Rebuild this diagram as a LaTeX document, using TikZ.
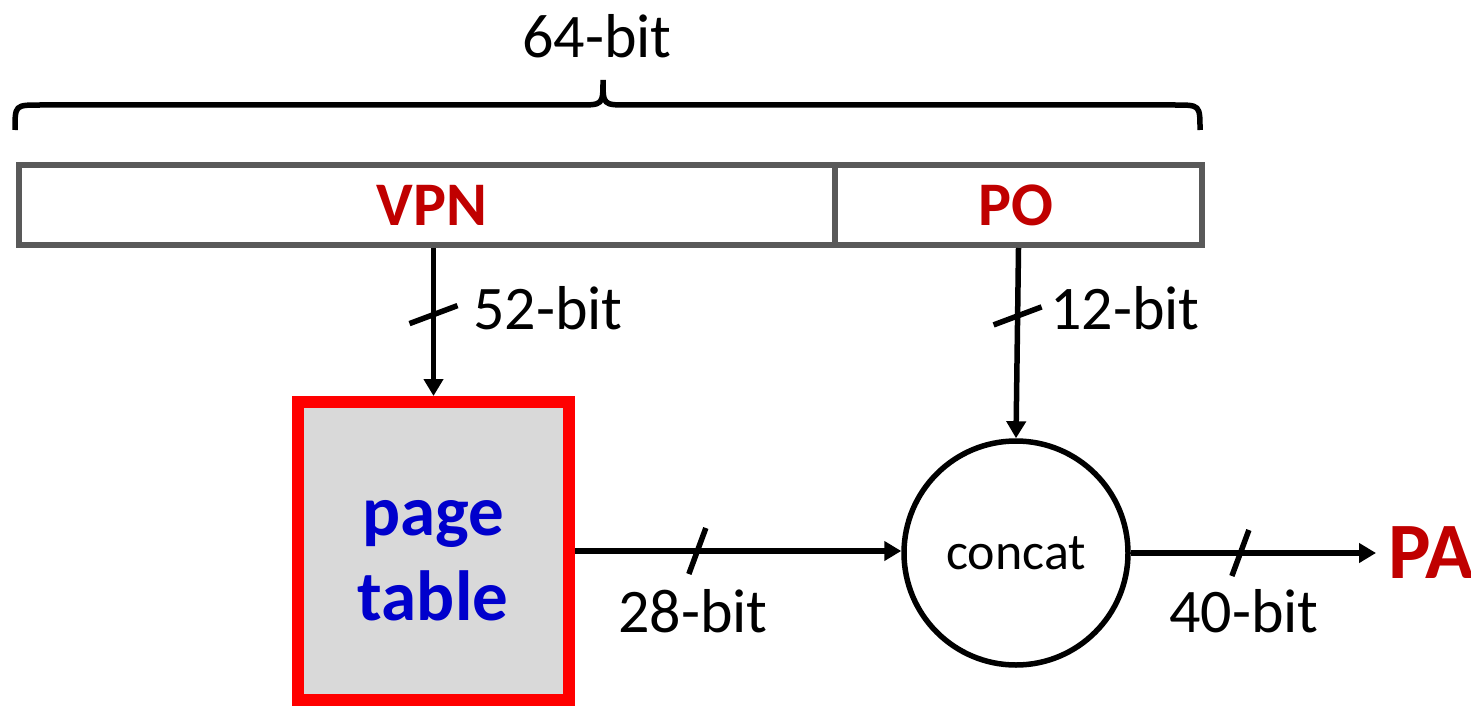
\documentclass[tikz,border=0pt]{standalone}
\usepackage{fontspec}
\setmainfont{Carlito}
\usetikzlibrary{arrows.meta,calc}
\definecolor{darkred}{RGB}{192,0,0}
\definecolor{ptblue}{RGB}{0,0,204}
\definecolor{framegray}{RGB}{89,89,89}
\definecolor{fillgray}{RGB}{217,217,217}
\begin{document}
\begin{tikzpicture}[x=1pt,y=-1pt,
  wire/.style={line width=5.5pt,-{Triangle[length=17pt,width=19pt]}},
  slashline/.style={line width=5.5pt},
  lbl/.style={font=\fontsize{62}{70}\selectfont,inner sep=0pt},
  field/.style={draw=framegray,line width=6pt,minimum height=80pt,inner sep=0pt,anchor=north west},
  fieldtext/.style={font=\fontsize{62}{70}\selectfont\bfseries,text=darkred,inner sep=0pt,anchor=base},
  ptbox/.style={draw=red,fill=fillgray,line width=12pt,minimum width=271pt,minimum height=298pt,inner sep=0pt},
  pttext/.style={font=\fontsize{71}{85}\selectfont\bfseries,text=ptblue,align=center,inner sep=0pt},
  concatnode/.style={circle,draw,line width=5.5pt,minimum size=224pt,inner sep=0pt,font=\fontsize{52}{60}\selectfont},
  brace/.style={line width=5.5pt}
]
\useasboundingbox (0,0) rectangle (1471,706);

% brace and width label
\draw[brace] (15,130) .. controls (15,105) .. (40,105) -- (578,105)
  .. controls (603,105) .. (603,80) .. controls (603,105) .. (628,105)
  -- (1175,105) .. controls (1200,105) .. (1200,130);
\node[lbl,anchor=base] (w64) at (597,58) {64-bit};

% address fields
\node[field,minimum width=816pt] (vpn) at (16,162) {};
\node[field,minimum width=367pt] (po) at (832,162) {};
\node[fieldtext] (vpnt) at (432,225) {VPN};
\node[fieldtext] (pot) at (1016,225) {PO};

% page table
\node[ptbox] (pt) at (433.5,551) {};
\node[pttext] (ptl) at (433,561) {page\\table};

% concat
\node[concatnode] (cc) at (1016,553) {concat};

% PA
\node[font=\fontsize{80}{90}\selectfont\bfseries,text=darkred,inner ysep=0pt,inner xsep=12pt,anchor=base west] (pa) at (1376,578) {PA};

% wires
\draw[wire] (vpn.south -| pt.north) -- coordinate[pos=0.45] (s1) (pt.north);
\draw[slashline] ($(s1)+(-24,9)$) -- ($(s1)+(24,-9)$);
\node[lbl,anchor=base west] (l52) at (473,329) {52-bit};

\draw[wire] (po.south) -- coordinate[pos=0.357] (s2) (cc.north);
\draw[slashline] ($(s2)+(-24,9)$) -- ($(s2)+(24,-9)$);
\node[lbl,anchor=base west] (l12) at (1050,329) {12-bit};

\draw[wire] (pt.east) -- coordinate[pos=0.375] (s3) (pt.east -| cc.west);
\draw[slashline] ($(s3)+(-8.5,23)$) -- ($(s3)+(8.5,-23)$);
\node[lbl,anchor=base] (l28) at (693,632) {28-bit};

\draw[wire] (cc.east) -- coordinate[pos=0.447] (s4) (cc.east -| pa.west);
\draw[slashline] ($(s4)+(-8.5,23)$) -- ($(s4)+(8.5,-23)$);
\node[lbl,anchor=base] (l40) at (1244,632) {40-bit};
\end{tikzpicture}
\end{document}
